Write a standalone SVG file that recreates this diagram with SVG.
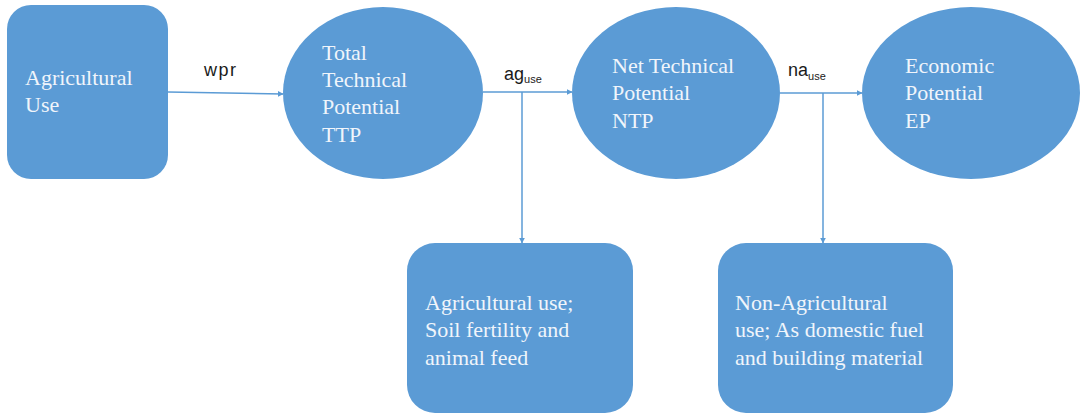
<svg xmlns="http://www.w3.org/2000/svg" width="1081" height="414" viewBox="0 0 1081 414">
<style>
.shape{fill:#5B9BD5;}
.nt{font-family:'Liberation Serif','Times New Roman','DejaVu Serif',serif;font-size:22px;fill:#F0F5FB;}
.lbl{font-family:'Liberation Sans',Arial,sans-serif;font-size:18px;fill:#1a1a1a;}
.sub{font-size:11px;}
.conn{stroke:#5B9BD5;stroke-width:1.5;fill:none;}
</style>
<defs>
<marker id="arr" viewBox="0 0 10 10" refX="9" refY="5" markerWidth="6" markerHeight="6" orient="auto" markerUnits="userSpaceOnUse">
<path d="M0,0 L10,5 L0,10 z" fill="#5B9BD5"/>
</marker>
</defs>
<rect width="1081" height="414" fill="#ffffff"/>
<g id="connectors">
<line class="conn" x1="168" y1="92" x2="283" y2="94" marker-end="url(#arr)"/>
<line class="conn" x1="483" y1="92" x2="572" y2="92" marker-end="url(#arr)"/>
<line class="conn" x1="522" y1="92" x2="522" y2="243" marker-end="url(#arr)"/>
<line class="conn" x1="780" y1="93" x2="862" y2="93" marker-end="url(#arr)"/>
<line class="conn" x1="823" y1="93" x2="823" y2="243" marker-end="url(#arr)"/>
<text class="lbl" x="204" y="76" letter-spacing="1.5">wpr</text>
<text class="lbl" x="504" y="80">ag<tspan class="sub" dy="3">use</tspan></text>
<text class="lbl" x="788" y="76">na<tspan class="sub" dy="4">use</tspan></text>
</g>
<g id="agri-use">
<rect class="shape" x="7" y="5" width="161" height="174" rx="24"/>
<text class="nt" font-family="Liberation Serif, serif" x="25" y="85">Agricultural</text>
<text class="nt" font-family="Liberation Serif, serif" x="25" y="112">Use</text>
</g>
<g id="ttp">
<ellipse class="shape" cx="383" cy="93" rx="100" ry="86"/>
<text class="nt" x="322" y="60">Total</text>
<text class="nt" x="322" y="87">Technical</text>
<text class="nt" x="322" y="114">Potential</text>
<text class="nt" x="322" y="142">TTP</text>
</g>
<g id="ntp">
<ellipse class="shape" cx="676" cy="93" rx="104" ry="86"/>
<text class="nt" x="612" y="73">Net Technical</text>
<text class="nt" x="612" y="100">Potential</text>
<text class="nt" x="612" y="128">NTP</text>
</g>
<g id="ep">
<ellipse class="shape" cx="971" cy="93" rx="109" ry="86"/>
<text class="nt" x="905" y="73">Economic</text>
<text class="nt" x="905" y="100">Potential</text>
<text class="nt" x="905" y="128">EP</text>
</g>
<g id="agri-feed">
<rect class="shape" x="407" y="243" width="226" height="170" rx="28"/>
<text class="nt" x="425" y="310">Agricultural use;</text>
<text class="nt" x="425" y="337">Soil fertility and</text>
<text class="nt" x="425" y="365">animal feed</text>
</g>
<g id="non-agri">
<rect class="shape" x="718" y="243" width="235" height="170" rx="28"/>
<text class="nt" x="735" y="310">Non-Agricultural</text>
<text class="nt" x="735" y="337">use; As domestic fuel</text>
<text class="nt" x="735" y="365">and building material</text>
</g>
</svg>
